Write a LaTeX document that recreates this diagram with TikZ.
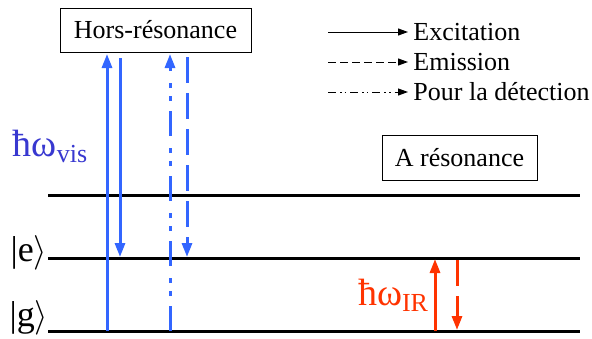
\documentclass[tikz,border=0pt]{standalone}
\usepackage{fontspec}
\setmainfont{Liberation Serif}
\usetikzlibrary{arrows.meta, positioning}

\definecolor{visblue}{RGB}{51,102,255}
\definecolor{vislabel}{RGB}{56,56,208}
\definecolor{irred}{RGB}{255,51,0}

\tikzset{
  level/.style={line width=1.5pt, black},
  tag/.style={draw, line width=0.5pt, font=\rmfamily\fontsize{13}{15}\selectfont, inner sep=0pt},
  trans/.style={line width=1.5pt, -{Triangle[length=7pt,width=5pt]}},
  emit/.style={dash pattern=on 13pt off 5pt},
  probe/.style={dash pattern=on 12.5pt off 5pt on 2.5pt off 4pt on 2.5pt off 6pt},
  key/.style={line width=0.5pt, -{Triangle[length=5pt,width=3.5pt]}},
  keytext/.style={anchor=west, font=\rmfamily\fontsize{13}{15}\selectfont, inner sep=0pt},
  ket/.style={font=\rmfamily\fontsize{18}{20}\selectfont, inner sep=0pt},
  hw/.style={font=\rmfamily\fontsize{19}{21}\selectfont, inner sep=0pt},
}
\newcommand{\hwsub}[1]{ħω\raisebox{-0.35ex}{\fontsize{13}{15}\selectfont #1}}

\begin{document}
\begin{tikzpicture}[x=0.5pt, y=-0.5pt]
    \useasboundingbox (0,0) rectangle (592,338);

    % energy levels
    \coordinate (v-l) at (48,195);  \coordinate (v-r) at (580,195);
    \coordinate (e-l) at (48,258);  \coordinate (e-r) at (580,258);
    \coordinate (g-l) at (48,331);  \coordinate (g-r) at (580,331);
    \draw[level] (v-l) -- (v-r);
    \draw[level] (e-l) -- (e-r);
    \draw[level] (g-l) -- (g-r);

    \node[ket] (ket-e) at (29,253) {|e$\rangle$};
    \node[ket] (ket-g) at (29,318) {|g$\rangle$};

    % boxes
    \node[tag, minimum width=95.5pt, minimum height=22pt] (hors) at (155.5,30) {Hors-résonance};
    \node[tag, minimum width=77.5pt, minimum height=22.5pt] (reso) at (459.5,157.5) {A résonance};

    % legend
    \coordinate (k1) at (328,32);  \coordinate (k1-e) at (408,32);
    \coordinate (k2) at (328,62);  \coordinate (k2-e) at (408,62);
    \coordinate (k3) at (328,92);  \coordinate (k3-e) at (408,92);
    \node[keytext] (t1) at (413,32) {Excitation};
    \node[keytext] (t2) at (413,62) {Emission};
    \node[keytext] (t3) at (413,92) {Pour la détection};
    \draw[key] (k1) -- (k1-e);
    \draw[key, dash pattern=on 4pt off 2pt] (k2) -- (k2-e);
    \draw[key, dash pattern=on 4pt off 2pt on 0.8pt off 1.5pt on 0.8pt off 2pt] (k3) -- (k3-e);

    % off resonance (visible)
    \coordinate (a1-s) at (107,331);  \coordinate (a1-e) at (107,54);
    \coordinate (a2-s) at (120,58);   \coordinate (a2-e) at (120,257);
    \coordinate (a3-s) at (170,331);  \coordinate (a3-e) at (170,54);
    \coordinate (a4-s) at (187,57);   \coordinate (a4-e) at (187,257);
    \draw[trans, visblue] (a1-s) -- (a1-e);
    \draw[trans, visblue] (a2-s) -- (a2-e);
    \draw[trans, visblue, probe] (a3-s) -- (a3-e);
    \draw[trans, visblue, emit] (a4-s) -- (a4-e);
    \node[hw, vislabel] (hw-vis) at (50,146) {\hwsub{vis}};

    % on resonance (infrared)
    \coordinate (b1-s) at (435,331);  \coordinate (b1-e) at (435,259);
    \coordinate (b2-s) at (457,260);  \coordinate (b2-e) at (457,330);
    \draw[trans, irred] (b1-s) -- (b1-e);
    \draw[trans, irred, emit] (b2-s) -- (b2-e);
    \node[hw, irred] (hw-ir) at (393,295) {\hwsub{IR}};
\end{tikzpicture}
\end{document}
